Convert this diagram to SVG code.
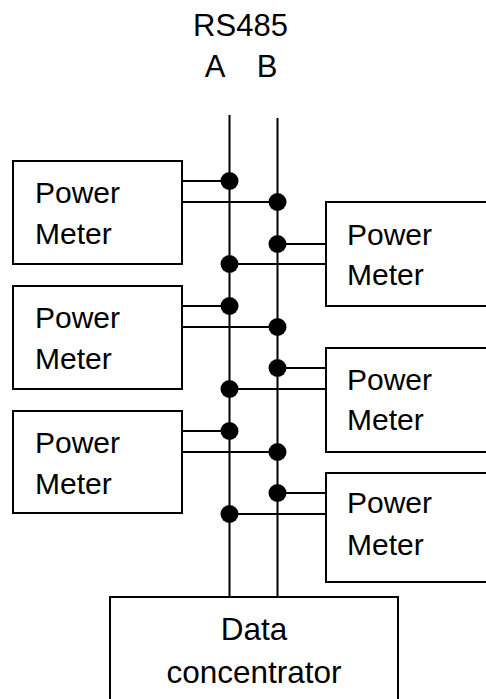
<svg xmlns="http://www.w3.org/2000/svg" width="486" height="699" viewBox="0 0 486 699">
<style>
.box{fill:#fff;stroke:#000;stroke-width:2}
.w{fill:none;stroke:#000;stroke-width:2}
.d{fill:#000}
text{font-family:"Liberation Sans",Arial,sans-serif;fill:#000}
.t{font-size:30px}
.h{font-size:31px;text-anchor:middle}
</style>
<rect width="486" height="699" fill="#fff"/>
<g id="label">
<text class="h" x="240.5" y="36">RS485</text>
<text class="h" x="215" y="77">A</text>
<text class="h" x="267" y="77">B</text>
</g>
<g id="connectors">
<line class="w" x1="229.5" y1="115" x2="229.5" y2="597"/>
<line class="w" x1="277.5" y1="118" x2="277.5" y2="597"/>
<path class="w" d="M182 181H229.5M182 202H277.5M277.5 244H326M229.5 264H326M182 306H229.5M182 327H277.5M277.5 368H326M229.5 389H326M182 431H229.5M182 452H277.5M277.5 493H326M229.5 514H326"/>
<g class="d">
<circle cx="229.5" cy="181" r="9"/><circle cx="277.5" cy="202" r="9"/>
<circle cx="277.5" cy="244" r="9"/><circle cx="229.5" cy="264" r="9"/>
<circle cx="229.5" cy="306" r="9"/><circle cx="277.5" cy="327" r="9"/>
<circle cx="277.5" cy="368" r="9"/><circle cx="229.5" cy="389" r="9"/>
<circle cx="229.5" cy="431" r="9"/><circle cx="277.5" cy="452" r="9"/>
<circle cx="277.5" cy="493" r="9"/><circle cx="229.5" cy="514" r="9"/>
</g>
</g>
<g id="pm-left-1"><rect class="box" x="13" y="161" width="169" height="103"/><text class="t" x="35" y="203">Power</text><text class="t" x="35" y="244">Meter</text></g>
<g id="pm-left-2"><rect class="box" x="13" y="286" width="169" height="103"/><text class="t" x="35" y="328">Power</text><text class="t" x="35" y="369">Meter</text></g>
<g id="pm-left-3"><rect class="box" x="13" y="411" width="169" height="102"/><text class="t" x="35" y="453">Power</text><text class="t" x="35" y="494">Meter</text></g>
<g id="pm-right-1"><rect class="box" x="326" y="202" width="180" height="104"/><text class="t" x="347" y="245">Power</text><text class="t" x="347" y="285">Meter</text></g>
<g id="pm-right-2"><rect class="box" x="326" y="348" width="180" height="104"/><text class="t" x="347" y="390">Power</text><text class="t" x="347" y="430">Meter</text></g>
<g id="pm-right-3"><rect class="box" x="326" y="473" width="180" height="109"/><text class="t" x="347" y="513">Power</text><text class="t" x="347" y="555">Meter</text></g>
<g id="data-concentrator"><rect class="box" x="110" y="597" width="288" height="120"/><text x="254" y="640" style="font-size:31.5px;text-anchor:middle">Data</text><text x="254" y="683" style="font-size:31.5px;text-anchor:middle">concentrator</text></g>
</svg>
